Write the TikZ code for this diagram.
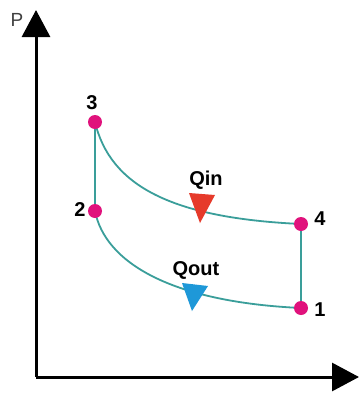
\documentclass[tikz,border=0pt]{standalone}
\usepackage{fontspec}
\setmainfont{Liberation Sans}
\usetikzlibrary{arrows.meta}
\definecolor{teal1}{HTML}{3A9E9A}
\definecolor{dotc}{HTML}{E0127C}
\definecolor{qred}{HTML}{E63A2A}
\definecolor{qblue}{HTML}{1E98D8}
\begin{document}
\begin{tikzpicture}[x=1pt,y=-1pt,
  axis/.style={line width=3pt,-{Triangle[length=27pt,width=28pt]}},
  cyc/.style={teal1,line width=1.8pt},
  dot/.style={circle,fill=dotc,inner sep=0pt,minimum size=14pt},
  lab/.style={font=\bfseries\fontsize{20}{24}\selectfont},
]
\useasboundingbox (0,0) rectangle (360,405);
\fill[white] (0,0) rectangle (360,405);
% axes
\coordinate (o) at (36,377);
\coordinate (ytip) at (36,10);
\coordinate (xtip) at (359,377);
\draw[axis] (o) -- (ytip);
\draw[axis] (o) -- (xtip);
\node[font=\fontsize{19}{22}\selectfont,text=black!75] (plab) at (17,20) {P};
% points
\coordinate (c3) at (95,122);
\coordinate (c2) at (95,211);
\coordinate (c4) at (301,224);
\coordinate (c1) at (301,308);
\draw[cyc] (c3) -- (c2);
\draw[cyc] (c4) -- (c1);
\draw[cyc] (c3) .. controls (110,185) and (170,218) .. (c4);
\draw[cyc] (c2) .. controls (105,262) and (170,302) .. (c1);
% heat triangles
\fill[qred] (189,193) -- (215,195) -- (200,223) -- cycle;
\fill[qblue] (182,283) -- (208,286) -- (192,311) -- cycle;
\node[lab] (qin) at (206,180) {Qin};
\node[lab] (qout) at (196,270) {Qout};
% dots
\node[dot] (p3) at (c3) {};
\node[dot] (p2) at (c2) {};
\node[dot] (p4) at (c4) {};
\node[dot] (p1) at (c1) {};
\node[lab] (l3) at (92,103) {3};
\node[lab] (l2) at (80,210) {2};
\node[lab] (l4) at (320,219) {4};
\node[lab] (l1) at (320,310) {1};
\end{tikzpicture}
\end{document}
